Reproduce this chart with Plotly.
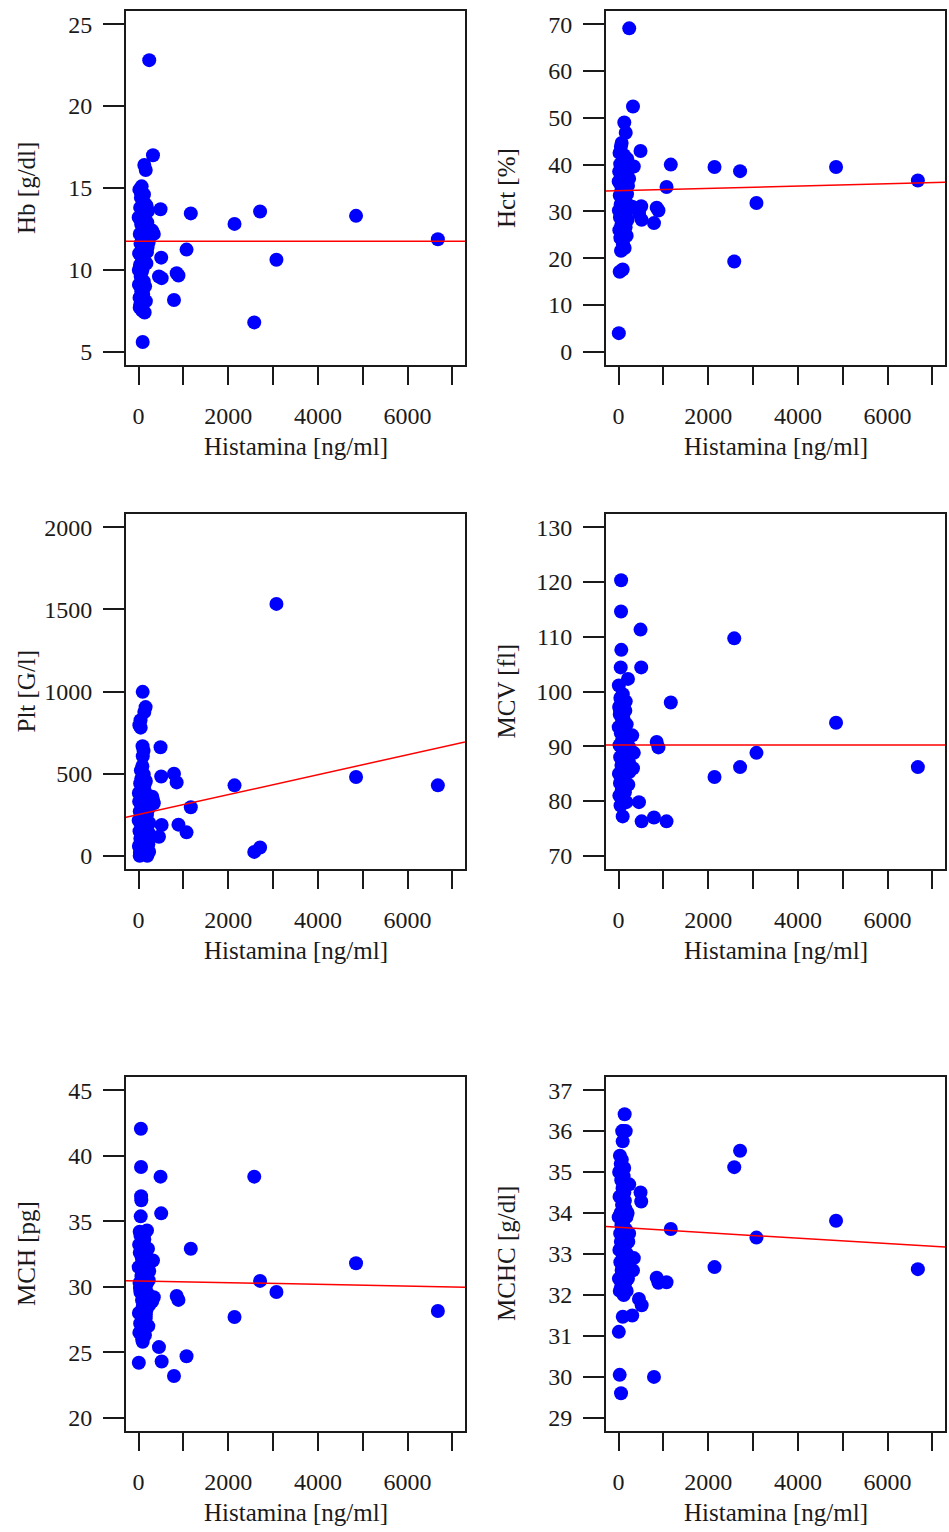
import numpy as np
import plotly.graph_objects as go

# ---------------- data ----------------
histamina = [3, 8, 13, 18, 22, 27, 31, 36, 40, 44, 48, 52, 57, 61, 65, 69, 73, 77, 81, 85,
             89, 94, 98, 103, 107, 112, 116, 121, 126, 131, 136, 141, 146, 151, 157, 163, 169, 175, 181, 188,
             195, 202, 210, 218, 226, 235, 6, 25, 55, 92, 128, 160, 238, 305, 322, 340,
             455, 490, 505, 515,
             790, 850, 890, 1070, 1165, 2140, 2580, 2710, 3075, 4850, 6675]

hb = [13.2, 9.1, 11.0, 14.9, 8.3, 12.2, 10.3, 13.8, 7.9, 11.6, 9.6, 14.4, 12.8, 8.7, 10.8, 15.1, 11.9, 9.9, 13.5, 7.5,
      12.5, 10.1, 14.2, 8.5, 11.3, 13.0, 9.3, 14.6, 10.6, 12.0, 7.4, 13.3, 9.0, 11.5, 14.0, 8.1, 12.7, 10.4, 13.9, 11.1,
      12.9, 11.4, 13.6, 12.3, 11.7, 12.1, 10.0, 7.7, 14.7, 5.6, 16.4, 16.1, 22.8, 12.4, 17.0, 12.2,
      9.6, 13.7, 10.75, 9.5,
      8.17, 9.8, 9.66, 11.24, 13.45, 12.81, 6.8, 13.57, 10.62, 13.30, 11.87]

hct = [36.4, 30.2, 38.5, 26.0, 42.5, 33.4, 28.7, 40.1, 24.3, 35.8, 31.5, 43.8, 37.2, 27.1, 34.6, 44.6, 29.4, 39.3, 25.2, 36.9,
       32.1, 41.7, 23.0, 34.0, 30.8, 38.0, 27.8, 42.0, 33.0, 36.0, 22.2, 40.6, 29.9, 35.2, 26.6, 39.8, 31.9, 37.6, 24.8, 33.7,
       41.2, 28.2, 35.5, 30.5, 39.0, 37.0, 4.0, 17.1, 21.6, 17.6, 49.0, 46.8, 69.1, 31.0, 52.4, 39.6,
       29.6, 42.9, 31.1, 28.2,
       27.5, 30.8, 30.2, 35.2, 40.0, 39.5, 19.3, 38.6, 31.8, 39.5, 36.6]

plt_vals = [215, 60, 330, 795, 150, 270, 20, 440, 105, 825, 780, 520, 240, 470, 35, 180, 410, 300, 75, 545,
            667, 606, 130, 360, 230, 640, 495, 10, 285, 430, 165, 90, 390, 205, 905, 455, 45, 320, 120, 250,
            0, 190, 280, 70, 140, 25, 382, 0, 345, 998, 875, 160, 200, 360, 340, 320,
            116, 661, 483, 188,
            500, 447, 190, 143, 296, 429, 24, 51, 1533, 480, 429]

mcv = [93.5, 85.0, 97.2, 81.0, 90.2, 95.8, 83.3, 88.0, 98.8, 79.2, 104.4, 92.4, 120.3, 107.6, 86.5, 96.0, 82.0, 91.0, 94.6, 84.2,
       89.3, 99.5, 80.4, 92.8, 87.2, 95.0, 83.8, 90.6, 97.8, 85.6, 93.0, 81.6, 88.6, 96.5, 84.8, 91.6, 87.6, 79.8, 94.0, 89.8,
       86.2, 92.2, 102.3, 83.0, 90.0, 87.0, 101.1, 96.8, 114.6, 77.2, 82.6, 98.2, 85.3, 92.0, 86.0, 88.8,
       79.8, 111.3, 104.4, 76.3,
       77.0, 90.8, 89.8, 76.3, 98.0, 84.4, 109.7, 86.2, 88.8, 94.3, 86.2]

mch = [31.5, 28.0, 33.2, 26.5, 30.3, 32.6, 29.9, 27.2, 29.6, 33.9, 35.37, 42.05, 36.9, 36.6, 30.8, 27.7, 32.2, 29.0, 26.0, 31.1,
       33.5, 28.5, 30.0, 26.8, 32.8, 29.3, 31.8, 27.4, 34.0, 30.6, 28.8, 26.3, 31.4, 33.0, 29.8, 27.9, 32.4, 30.2, 28.3, 34.3,
       31.0, 29.5, 32.9, 27.0, 30.5, 28.6, 24.2, 34.2, 39.14, 25.8, 33.6, 27.6, 31.2, 28.9, 32.0, 29.2,
       25.4, 38.4, 35.6, 24.3,
       23.2, 29.3, 29.0, 24.7, 32.9, 27.7, 38.4, 30.45, 29.6, 31.8, 28.15]

mchc = [33.9, 32.4, 35.0, 33.1, 34.4, 32.1, 35.4, 33.5, 32.8, 34.0, 35.2, 33.3, 32.2, 34.8, 33.7, 32.6, 35.3, 34.2, 36.0, 33.0,
        34.6, 31.47, 36.0, 32.5, 33.8, 34.9, 32.0, 33.4, 35.1, 32.9, 36.41, 34.3, 33.2, 32.3, 34.1, 33.6, 32.7, 33.9, 32.1, 33.0,
        32.6, 34.0, 32.4, 33.3, 32.8, 33.5, 31.1, 30.05, 29.6, 35.75, 34.5, 36.0, 34.7, 31.5, 32.6, 32.9,
        31.9, 34.5, 34.28, 31.75,
        30.0, 32.42, 32.3, 32.31, 33.61, 32.68, 35.12, 35.52, 33.40, 33.81, 32.63]

# regression lines
fit_intercept = [11.75, 34.44, 251.0, 90.25, 30.45, 33.65]
fit_slope = [0.0, 2.43e-4, 0.0607, 0.0, -6.6e-5, -6.6e-5]

y_titles = ["Hb [g/dl]", "Hct [%]", "Plt [G/l]", "MCV [fl]", "MCH [pg]", "MCHC [g/dl]"]
y_ticks = [[5, 10, 15, 20, 25],
           [0, 10, 20, 30, 40, 50, 60, 70],
           [0, 500, 1000, 1500, 2000],
           [70, 80, 90, 100, 110, 120, 130],
           [20, 25, 30, 35, 40, 45],
           [29, 30, 31, 32, 33, 34, 35, 36, 37]]
x_ticks = [0, 1000, 2000, 3000, 4000, 5000, 6000, 7000]
x_tick_text = ["0", "", "2000", "", "4000", "", "6000", ""]
x_title = "Histamina [ng/ml]"

series = [hb, hct, plt_vals, mcv, mch, mchc]

# ---------------- layout geometry (pixels) ----------------
W, H = 949, 1532
col_px = [(126, 465), (606, 945)]
row_px = [(11, 365), (514, 869), (1077, 1431)]
FONT = "Liberation Serif, Times New Roman, serif"
INK = "#1a1a1a"


def yrange(ticks):
    lo, hi = ticks[0], ticks[-1]
    pad = 0.04 * (hi - lo)
    return [lo - pad, hi + pad]


xr = yrange([0, 7000])
tick_font = dict(family=FONT, size=24, color=INK)

fig = go.Figure()
annotations = []
for i in range(6):
    r, c = divmod(i, 2)
    k = "" if i == 0 else str(i + 1)
    (x0, x1), (t0, t1) = col_px[c], row_px[r]
    xdom = [x0 / W, x1 / W]
    ydom = [1 - t1 / H, 1 - t0 / H]
    axis_common = dict(showgrid=False, zeroline=False, showline=True, linecolor=INK, linewidth=2,
                       mirror=True, ticks="outside", tickwidth=2, tickcolor=INK, tickfont=tick_font)
    fig.layout["xaxis" + k] = dict(domain=xdom, anchor="y" + k, range=xr, tickvals=x_ticks,
                                   ticktext=x_tick_text, ticklen=18, ticklabelstandoff=10, **axis_common)
    fig.layout["yaxis" + k] = dict(domain=ydom, anchor="x" + k, range=yrange(y_ticks[i]),
                                   tickvals=y_ticks[i], ticklen=21, ticklabelstandoff=6, **axis_common)

    fig.add_trace(go.Scatter(x=histamina, y=series[i], mode="markers", xaxis="x" + k, yaxis="y" + k,
                             marker=dict(color="#0000ff", size=14, line=dict(width=0)), showlegend=False))
    lx = np.array(xr)
    ly = fit_intercept[i] + fit_slope[i] * lx
    fig.add_trace(go.Scatter(x=lx, y=ly, mode="lines", xaxis="x" + k, yaxis="y" + k,
                             line=dict(color="#ff0000", width=1.5), showlegend=False))

    annotations.append(dict(text=x_title, x=(x0 + x1) / 2 / W, y=1 - (t1 + 81) / H, xref="paper", yref="paper",
                            xanchor="center", yanchor="middle", showarrow=False,
                            font=dict(family=FONT, size=25, color=INK)))
    annotations.append(dict(text=y_titles[i], x=(x0 - 100) / W, y=1 - (t0 + t1) / 2 / H, xref="paper", yref="paper",
                            xanchor="center", yanchor="middle", showarrow=False, textangle=-90,
                            font=dict(family=FONT, size=25, color=INK)))

fig.update_layout(width=W, height=H, margin=dict(l=0, r=0, t=0, b=0),
                  font=dict(family=FONT, size=24, color=INK),
                  paper_bgcolor="white", plot_bgcolor="white", annotations=annotations)

fig.write_html("out.html", config={"displayModeBar": False},
               post_script="document.body.style.margin='0';")
